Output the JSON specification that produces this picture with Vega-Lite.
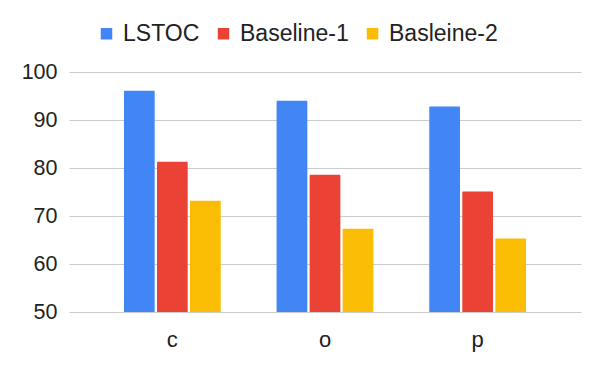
{
  "$schema": "https://vega.github.io/schema/vega-lite/v6.json",
  "autosize": "none",
  "width": 512,
  "height": 240,
  "padding": {"left": 69, "top": 72, "right": 19, "bottom": 59},
  "background": "white",
  "config": {
    "view": {"stroke": null},
    "font": "Liberation Sans, Arial",
    "axis": {"labelFont": "Liberation Sans, Arial", "labelColor": "#222222"},
    "legend": {"labelFont": "Liberation Sans, Arial"}
  },
  "data": {
    "values": [
      {"cat": "c", "method": "LSTOC", "value": 96.1},
      {"cat": "c", "method": "Baseline-1", "value": 81.3},
      {"cat": "c", "method": "Basleine-2", "value": 73.2},
      {"cat": "o", "method": "LSTOC", "value": 94.0},
      {"cat": "o", "method": "Baseline-1", "value": 78.6},
      {"cat": "o", "method": "Basleine-2", "value": 67.35},
      {"cat": "p", "method": "LSTOC", "value": 92.8},
      {"cat": "p", "method": "Baseline-1", "value": 75.1},
      {"cat": "p", "method": "Basleine-2", "value": 65.3}
    ]
  },
  "mark": {"type": "bar", "cornerRadiusTopLeft": 1, "cornerRadiusTopRight": 1},
  "encoding": {
    "x": {
      "field": "cat",
      "type": "nominal",
      "sort": ["c", "o", "p"],
      "scale": {"paddingInner": 0.366, "paddingOuter": 0.36},
      "axis": {
        "title": null,
        "labelAngle": 0,
        "labelFontSize": 22,
        "labelPadding": 17,
        "ticks": false,
        "domain": false,
        "grid": false
      }
    },
    "xOffset": {
      "field": "method",
      "type": "nominal",
      "sort": ["LSTOC", "Baseline-1", "Basleine-2"],
      "scale": {"paddingInner": 0.07, "paddingOuter": 0}
    },
    "y": {
      "field": "value",
      "type": "quantitative",
      "scale": {"domain": [50, 100], "nice": false, "zero": false},
      "axis": {
        "title": null,
        "values": [50, 60, 70, 80, 90, 100],
        "labelFontSize": 21.5,
        "labelPadding": 12,
        "ticks": false,
        "domain": false,
        "grid": true,
        "gridColor": "#cccccc",
        "gridWidth": 1
      }
    },
    "y2": {"datum": 50},
    "color": {
      "field": "method",
      "type": "nominal",
      "sort": ["LSTOC", "Baseline-1", "Basleine-2"],
      "scale": {
        "domain": ["LSTOC", "Baseline-1", "Basleine-2"],
        "range": ["#4285F4", "#EA4335", "#FBBC04"]
      },
      "legend": {
        "title": null,
        "orient": "none",
        "direction": "horizontal",
        "columns": 3,
        "legendX": 26,
        "legendY": -50,
        "symbolType": "square",
        "symbolSize": 132,
        "symbolStrokeWidth": 0,
        "symbolOpacity": 1,
        "labelFontSize": 23,
        "labelColor": "#222222",
        "labelOffset": 5,
        "columnPadding": 12
      }
    }
  }
}
